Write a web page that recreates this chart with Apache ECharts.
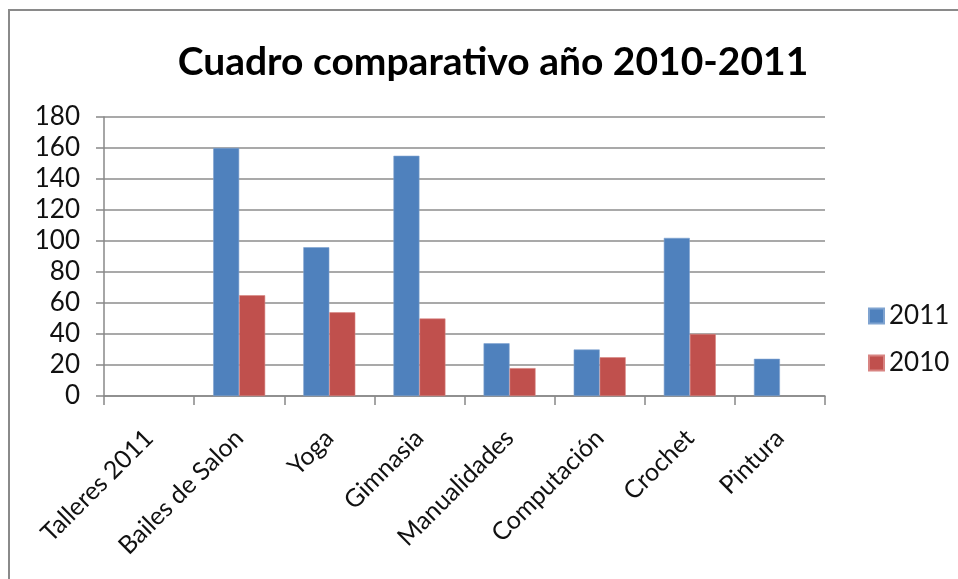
<!DOCTYPE html>
<html>
<head>
<meta charset="utf-8">
<script src="https://cdn.jsdelivr.net/npm/echarts@6/dist/echarts.min.js"></script>
<style>
  html, body { margin: 0; padding: 0; background: #fff; }
  #chart { width: 958px; height: 579px; }
</style>
</head>
<body>
<div id="chart"></div>
<script>
const categories = ['Talleres 2011', 'Bailes de Salon', 'Yoga', 'Gimnasia', 'Manualidades', 'Computación', 'Crochet', 'Pintura'];
const values2011 = [null, 160, 96, 155, 34, 30, 102, 24];
const values2010 = [null, 65, 54, 50, 18, 25, 40, null];
const yTicks = { min: 0, max: 180, interval: 20 };

const font = 'Lato';
const chart = echarts.init(document.getElementById('chart'), null, { renderer: 'canvas' });

chart.setOption({
  animation: false,
  title: {
    text: 'Cuadro comparativo año 2010-2011',
    left: 488,
    textAlign: 'center',
    top: 38,
    textStyle: { fontFamily: font, fontWeight: 'bold', fontSize: 39, color: '#000' }
  },
  graphic: [{
    type: 'rect',
    shape: { x: 9, y: 10, width: 1000, height: 600 },
    style: { fill: 'none', stroke: '#8a8a8a', lineWidth: 2 }
  }],
  legend: {
    orient: 'vertical',
    left: 863,
    top: 298,
    itemWidth: 15,
    itemHeight: 15,
    itemGap: 21,
    icon: 'rect',
    textStyle: { fontFamily: font, fontSize: 26, color: '#111' },
    data: ['2011', '2010']
  },
  grid: { left: 104, right: 133, top: 117, bottom: 183, containLabel: false },
  xAxis: {
    type: 'category',
    data: categories,
    axisLine: { lineStyle: { color: '#888', width: 1.5 } },
    axisTick: { show: true, length: 9, lineStyle: { color: '#888', width: 1.5 } },
    axisLabel: { rotate: 45, margin: 38, fontFamily: font, fontSize: 25, color: '#111', interval: 0 }
  },
  yAxis: {
    type: 'value',
    min: yTicks.min,
    max: yTicks.max,
    interval: yTicks.interval,
    axisLine: { show: true, lineStyle: { color: '#888', width: 1.5 } },
    axisTick: { show: true, inside: false, length: 8, lineStyle: { color: '#888', width: 1.5 } },
    axisLabel: { margin: 24, fontFamily: font, fontSize: 26, color: '#111' },
    splitLine: { lineStyle: { color: '#8c8c8c', width: 1.5 } }
  },
  series: [
    {
      name: '2011', type: 'bar', data: values2011, barWidth: 26, barGap: 0,
      itemStyle: { color: '#4f81bd', borderColor: '#7fa3d0', borderWidth: 0.6 }
    },
    {
      name: '2010', type: 'bar', data: values2010, barWidth: 26, barGap: 0,
      itemStyle: { color: '#c0504d', borderColor: '#d88482', borderWidth: 0.6 }
    }
  ]
});
</script>
</body>
</html>
